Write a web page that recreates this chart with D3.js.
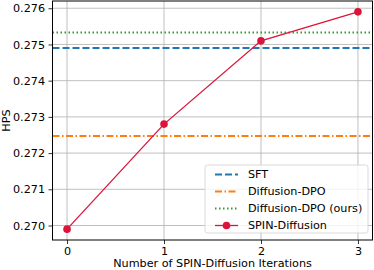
<!DOCTYPE html>
<html>
<head>
<meta charset="utf-8">
<script src="https://cdn.jsdelivr.net/npm/d3@7"></script>
<style>
body { margin: 0; background: #fff; }
text { font-family: "DejaVu Sans", sans-serif; }
</style>
</head>
<body>
<div id="chart"></div>
<script>
var iterations = [0, 1, 2, 3];
var spinValues = [0.2699, 0.2728, 0.2751, 0.2759];
var sftValue = 0.2749;
var dpoValue = 0.27247;
var dpoOursValue = 0.27533;
var yTicks = [0.270, 0.271, 0.272, 0.273, 0.274, 0.275, 0.276];
var legendNames = ["SFT", "Diffusion-DPO", "Diffusion-DPO (ours)", "SPIN-Diffusion"];

var fontSize = "11.2px";

var margin = {top: 1, right: 1.5, bottom: 30, left: 52.5},
    width = 374 - margin.left - margin.right,
    height = 270 - margin.top - margin.bottom;

var svg = d3.select("#chart")
.append("svg")
.attr("width", 374)
.attr("height", 270)
.append("g")
.attr("transform", "translate(" + margin.left + "," + margin.top + ")");

var x = d3.scaleLinear()
.domain([-0.15, 3.15])
.range([0, width]);

var y = d3.scaleLinear()
.domain([0.2696, 0.2762])
.range([height, 0]);

// grid
svg.append("g")
.selectAll("line")
.data(iterations)
.enter()
.append("line")
.attr("x1", function(d){return x(d)})
.attr("x2", function(d){return x(d)})
.attr("y1", 0)
.attr("y2", height)
.attr("stroke", "#b0b0b0")
.attr("stroke-width", 0.8);

svg.append("g")
.selectAll("line")
.data(yTicks)
.enter()
.append("line")
.attr("x1", 0)
.attr("x2", width)
.attr("y1", function(d){return y(d)})
.attr("y2", function(d){return y(d)})
.attr("stroke", "#b0b0b0")
.attr("stroke-width", 0.8);

// axes
var xAxis = svg.append("g")
.attr("transform", "translate(0," + height + ")")
.call(d3.axisBottom(x).tickValues(iterations).tickFormat(d3.format("d")).tickSize(4).tickPadding(3));

var yAxis = svg.append("g")
.call(d3.axisLeft(y).tickValues(yTicks).tickFormat(d3.format(".3f")).tickSize(4).tickPadding(3.5));

[xAxis, yAxis].forEach(function(a){
  a.select(".domain").remove();
  a.selectAll("text").style("font-size", fontSize).attr("fill", "#000");
  a.selectAll("line").attr("stroke", "#000").attr("stroke-width", 0.8);
});

// reference lines
var refLines = [
  {v: sftValue, color: "#1f77b4", dash: "7,3"},
  {v: dpoValue, color: "#ff7f0e", dash: "7,2.5,1.5,2.5"},
  {v: dpoOursValue, color: "#2ca02c", dash: "1.5,2.5"}
];

svg.append("g")
.selectAll("line")
.data(refLines)
.enter()
.append("line")
.attr("x1", 0)
.attr("x2", width)
.attr("y1", function(d){return y(d.v)})
.attr("y2", function(d){return y(d.v)})
.attr("stroke", function(d){return d.color})
.attr("stroke-width", 2)
.attr("stroke-dasharray", function(d){return d.dash});

// SPIN line
var line = d3.line()
.x(function(d,i){return x(iterations[i])})
.y(function(d){return y(d)});

svg.append("path")
.datum(spinValues)
.attr("d", line)
.attr("fill", "none")
.attr("stroke", "#dc143c")
.attr("stroke-width", 1.3);

svg.append("g")
.selectAll("circle")
.data(spinValues)
.enter()
.append("circle")
.attr("cx", function(d,i){return x(iterations[i])})
.attr("cy", function(d){return y(d)})
.attr("r", 3.8)
.attr("fill", "#dc143c");

// frame
svg.append("rect")
.attr("x", 0)
.attr("y", 0)
.attr("width", width)
.attr("height", height)
.attr("fill", "none")
.attr("stroke", "#000")
.attr("stroke-width", 1);

// legend
var legend = d3.select("svg").append("g")
.attr("transform", "translate(205,165)");

legend.append("rect")
.attr("width", 163)
.attr("height", 68)
.attr("rx", 2.5)
.attr("fill", "#fff")
.attr("fill-opacity", 0.8)
.attr("stroke", "#d0d0d0")
.attr("stroke-width", 0.8);

var legendStyles = [
  {color: "#1f77b4", dash: "7,3", marker: false},
  {color: "#ff7f0e", dash: "7,2.5,1.5,2.5", marker: false},
  {color: "#2ca02c", dash: "1.5,2.5", marker: false},
  {color: "#dc143c", dash: null, marker: true}
];

var items = legend.selectAll("g.item")
.data(legendNames)
.enter()
.append("g")
.attr("class", "item")
.attr("transform", function(d,i){return "translate(0," + (9.5 + i*17) + ")"});

items.append("line")
.attr("x1", 10)
.attr("x2", 33)
.attr("stroke", function(d,i){return legendStyles[i].color})
.attr("stroke-width", function(d,i){return legendStyles[i].marker ? 1.3 : 2})
.attr("stroke-dasharray", function(d,i){return legendStyles[i].dash});

items.filter(function(d,i){return legendStyles[i].marker})
.append("circle")
.attr("cx", 21.5)
.attr("r", 3.8)
.attr("fill", "#dc143c");

items.append("text")
.text(function(d){return d})
.attr("x", 43)
.attr("dy", "0.35em")
.style("font-size", fontSize);

// axis labels
var labels = d3.select("svg").append("g");

labels.append("text")
.text("Number of SPIN-Diffusion Iterations")
.attr("text-anchor", "middle")
.attr("x", margin.left + width/2)
.attr("y", 266.5)
.style("font-size", fontSize);

labels.append("text")
.text("HPS")
.attr("text-anchor", "middle")
.attr("transform", "translate(9.5," + (margin.top + height/2) + ")rotate(-90)")
.style("font-size", fontSize);
</script>
</body>
</html>
